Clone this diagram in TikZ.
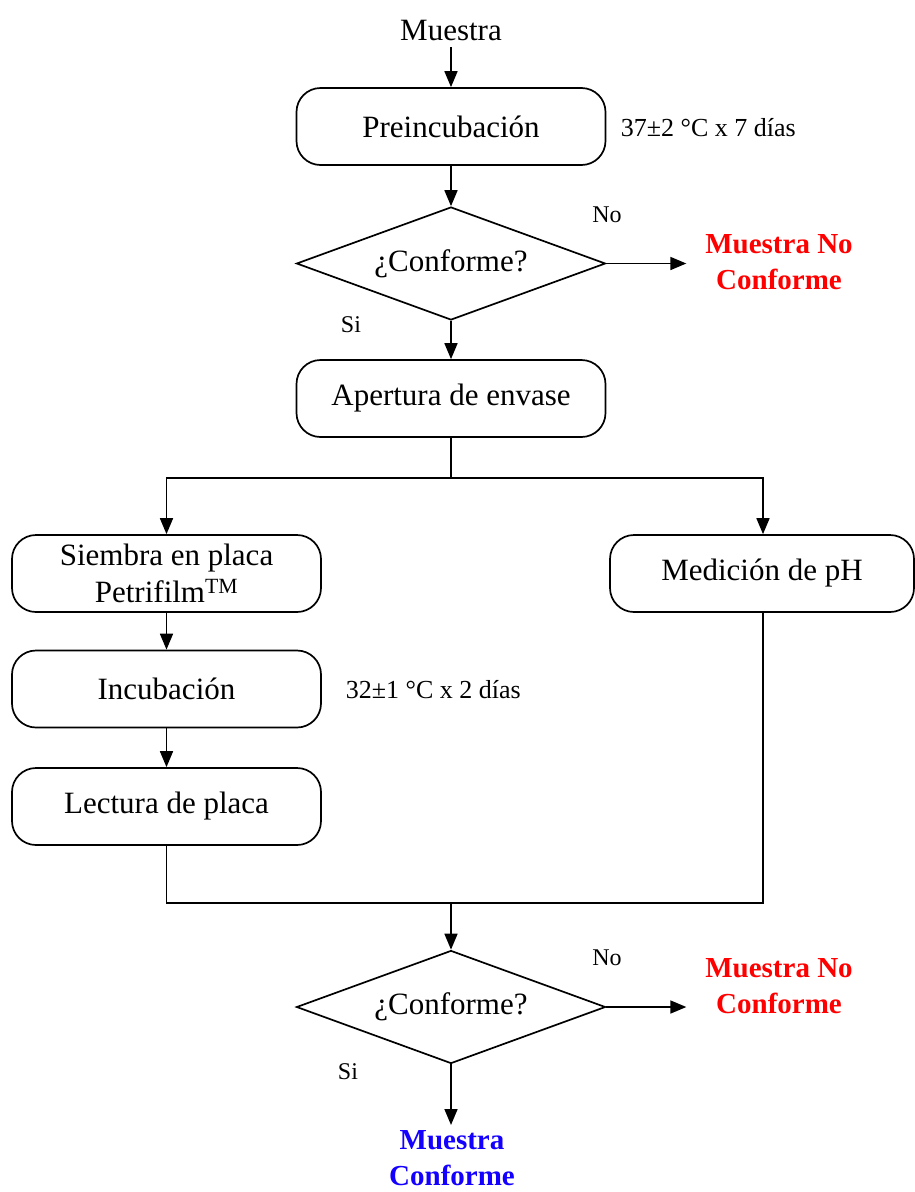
\documentclass[tikz,border=0pt]{standalone}
\usepackage{fontspec}
\setmainfont{Liberation Serif}
\usetikzlibrary{shapes.geometric,arrows.meta}
\definecolor{nored}{RGB}{255,0,0}
\definecolor{okblue}{RGB}{20,0,255}
\begin{document}
\begin{tikzpicture}[x=1pt,y=-1pt,
  line width=1.7pt,
  box/.style={draw,rounded corners=24pt,minimum width=309pt,minimum height=77pt,
              inner sep=0pt,align=center,font=\fontsize{31}{37}\selectfont},
  decision/.style={draw,diamond,aspect=2.735,minimum width=309pt,minimum height=113pt,
              inner sep=0pt,font=\fontsize{31}{33}\selectfont},
  plain/.style={inner sep=0pt,font=\fontsize{31}{33}\selectfont},
  side/.style={inner sep=0pt,anchor=west,font=\fontsize{26}{28}\selectfont},
  tag/.style={inner sep=0pt,font=\fontsize{24}{26}\selectfont},
  outcome/.style={inner sep=0pt,align=center,font=\bfseries\fontsize{29}{36}\selectfont},
  arr/.style={-{Triangle[length=16pt,width=13pt]}}]
\useasboundingbox (0,0) rectangle (914,1192);

% main column
\node[plain] (muestra) at (451,30) {Muestra};
\node[box] (pre) at (451,126.5) {Preincubación};
\node[side] (t1) at (620,128) {37±2 °C x 7 días};
\node[decision] (d1) at (451,263.5) {¿Conforme?};
\node[tag] (no1) at (607,215) {No};
\node[tag] (si1) at (351,325) {Si};
\node[outcome,text=nored] (nc1) at (779,262) {Muestra No\\Conforme};
\node[box] (ap) at (451,398.5) {Apertura de envase};

% branches
\node[box] (sie) at (166.5,573.5) {Siembra en placa\\Petrifilm\textsuperscript{TM}};
\node[box,minimum width=304pt] (ph) at (762,573.5) {Medición de pH};
\node[box] (inc) at (166.5,689) {Incubación};
\node[side] (t2) at (345,690) {32±1 °C x 2 días};
\node[box] (lec) at (166.5,806.5) {Lectura de placa};

% final decision
\node[decision] (d2) at (451,1007) {¿Conforme?};
\node[tag] (no2) at (607,958) {No};
\node[tag] (si2) at (348,1072) {Si};
\node[outcome,text=nored] (nc2) at (779,986) {Muestra No\\Conforme};
\node[outcome,text=okblue] (ok) at (452,1158) {Muestra\\Conforme};

\coordinate (split) at (451,478);
\coordinate (join) at (451,903);
\coordinate (okin) at (451,1125);

% connectors
\draw[arr] (muestra.south) ++(0,6) -- (pre.north);
\draw[arr] (pre) -- (d1);
\draw[arr] (d1.east) -- ++(80,0) coordinate (nc1in);
\draw[arr] (d1.south) -- (ap.north);
\draw (ap.south) -- (split);
\draw[arr] (split) -| (sie.north);
\draw[arr] (split) -| ([xshift=1pt]ph.north);
\draw[arr] (sie) -- (inc);
\draw[arr] (inc) -- (lec);
\draw (lec.south) |- (join);
\draw ([xshift=1pt]ph.south) |- (join);
\draw[arr] (join) -- (d2.north);
\draw[arr] (d2.east) -- ++(80,0) coordinate (nc2in);
\draw[arr] (d2.south) -- (okin);
\end{tikzpicture}
\end{document}
